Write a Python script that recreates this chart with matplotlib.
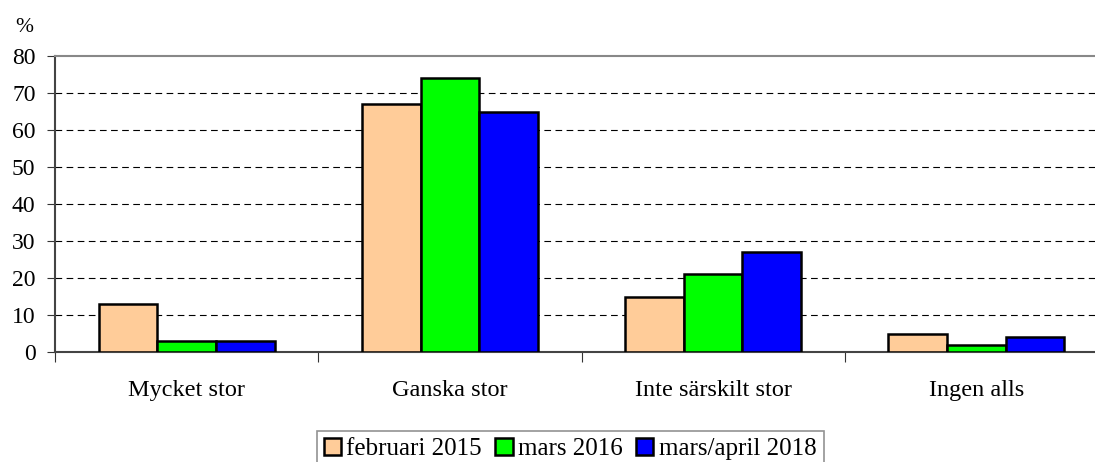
import matplotlib.pyplot as plt
import numpy as np

categories = ['Mycket stor', 'Ganska stor', 'Inte särskilt stor', 'Ingen alls']
series_names = ['februari 2015', 'mars 2016', 'mars/april 2018']
feb_2015 = [13, 67, 15, 5]
mars_2016 = [3, 74, 21, 2]
mars_april_2018 = [3, 65, 27, 4]
colors = ['#FFCC99', '#00FF00', '#0000FF']
yticks = [0, 10, 20, 30, 40, 50, 60, 70, 80]

plt.rcParams['font.family'] = ['Liberation Serif', 'DejaVu Serif']

fig = plt.figure(figsize=(10.95, 4.62), dpi=100)
ax = fig.add_axes([55 / 1095, 1 - 352 / 462, 1053 / 1095, 296 / 462])

x = np.arange(len(categories))
w = 0.223
for i, (vals, name) in enumerate(zip([feb_2015, mars_2016, mars_april_2018], series_names)):
    ax.bar(x + (i - 1) * w, vals, width=w, color=colors[i], edgecolor='black',
           linewidth=1.8, label=name, zorder=3)

ax.set_xlim(-0.5, 3.5)
ax.set_ylim(0, 80)
ax.set_yticks(yticks)
ax.set_yticklabels([str(t) for t in yticks], fontsize=17)
for t in yticks[1:-1]:
    ax.axhline(t, color='black', linestyle=(0, (6, 4)), linewidth=0.8, zorder=1)

ax.set_xticks(np.arange(-0.5, 4.0, 1.0))
ax.set_xticklabels([])
ax.set_xticks(x, minor=True)
ax.set_xticklabels(categories, minor=True, fontsize=17.5)
ax.tick_params(axis='x', which='minor', length=0, pad=20)
ax.tick_params(axis='x', which='major', length=7, color='#333333')
ax.tick_params(axis='y', length=6, color='#333333', pad=8)

ax.spines['left'].set_color('#444444')
ax.spines['left'].set_linewidth(1.5)
ax.spines['bottom'].set_color('#444444')
ax.spines['bottom'].set_linewidth(1.5)
ax.spines['top'].set_color('#888888')
ax.spines['top'].set_linewidth(1.5)
ax.spines['right'].set_visible(False)

fig.text(24 / 1095, 1 - 27 / 462, '%', fontsize=15.5, ha='center', va='center')

leg = fig.legend(loc='upper center', bbox_to_anchor=(570 / 1095, 1 - 431 / 462), ncol=3,
                 fontsize=18, frameon=True, fancybox=False, edgecolor='#777777',
                 handlelength=0.7, handleheight=0.65, handletextpad=0.22,
                 columnspacing=0.52, borderpad=0.28, borderaxespad=0)
leg.get_frame().set_linewidth(1.2)

fig.savefig('out.png', dpi=100)
